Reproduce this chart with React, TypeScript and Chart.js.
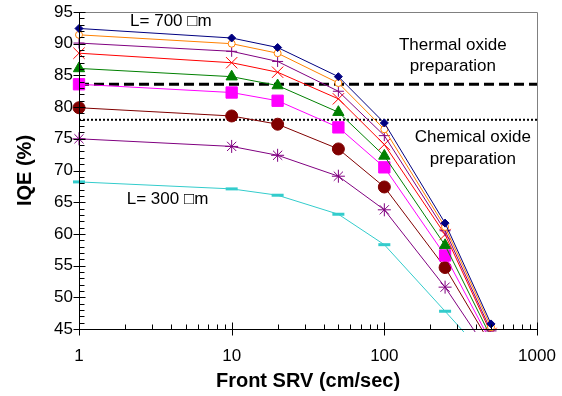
import React, { useEffect, useRef } from 'react';
import { Chart, registerables } from 'chart.js';

Chart.register(...registerables);

// ---- data ----
const srv = [1, 10, 20, 50, 100, 250, 500];
const iqeL700 = [92.4, 90.9, 89.4, 84.8, 77.5, 61.7, 45.8];
const iqeL650 = [91.4, 90.0, 88.5, 83.8, 76.5, 61.1, 45.3];
const iqeL600 = [90.1, 88.8, 87.2, 82.5, 75.5, 60.5, 44.7];
const iqeL550 = [88.5, 87.0, 85.5, 81.3, 74.1, 59.9, 44.3];
const iqeL500 = [86.1, 84.8, 83.4, 79.2, 72.3, 58.2, 43.7];
const iqeL450 = [83.6, 82.3, 81.0, 76.8, 70.5, 56.6, 42.9];
const iqeL400 = [79.9, 78.6, 77.3, 73.4, 67.4, 54.7, 42.5];
const iqeL350 = [75.0, 73.8, 72.4, 69.1, 63.8, 51.6, 40.8];
const iqeL300 = [68.2, 67.1, 66.1, 63.1, 58.3, 47.8, 39.8];
const seriesNames = ['L = 700', 'L = 650', 'L = 600', 'L = 550', 'L = 500', 'L = 450', 'L = 400', 'L = 350', 'L = 300'];
const thermalLevel = 83.6;
const chemicalLevel = 78.0;
const xMin = 1;
const xMax = 1000;
const yMin = 45;
const yMax = 95;
const yStep = 5;
const xTickLabels = [1, 10, 100, 1000];
const notes = [
  { text: 'L= 700 \u25A1m', x: 4.0, y: 93.5 },
  { text: 'L= 300 \u25A1m', x: 3.8, y: 65.4 },
  { text: 'Thermal oxide', x: 281, y: 89.8 },
  { text: 'preparation', x: 281, y: 86.5 },
  { text: 'Chemical oxide', x: 380, y: 75.3 },
  { text: 'preparation', x: 380, y: 71.8 },
];

const FONT = '"Liberation Sans", Arial, sans-serif';

const styles = [
  { color: '#000080', pointStyle: 'rectRot', radius: 4, fill: '#000080', bw: 1 },
  { color: '#FF8000', pointStyle: 'circle', radius: 3.5, fill: '#FFFFFF', bw: 1 },
  { color: '#800080', pointStyle: 'cross', radius: 5.5, fill: '#800080', bw: 1 },
  { color: '#FF0000', pointStyle: 'crossRot', radius: 8, fill: '#FF0000', bw: 1 },
  { color: '#008000', pointStyle: 'triangle', radius: 6.5, fill: '#008000', bw: 1 },
  { color: '#FF00FF', pointStyle: 'rect', radius: 8, fill: '#FF00FF', bw: 1 },
  { color: '#800000', pointStyle: 'circle', radius: 6, fill: '#800000', bw: 1 },
  { color: '#800080', pointStyle: 'star', radius: 6.5, fill: '#800080', bw: 1 },
  { color: '#33CCCC', pointStyle: 'line', radius: 6, fill: '#33CCCC', bw: 3 },
];

const decoPlugin = {
  id: 'deco',
  beforeDatasetsDraw(chart: any) {
    const { ctx, chartArea: a } = chart;
    ctx.save();
    ctx.strokeStyle = '#808080';
    ctx.lineWidth = 1;
    ctx.beginPath();
    ctx.moveTo(Math.round(a.left) + 0.5, Math.round(a.top) + 0.5);
    ctx.lineTo(Math.round(a.right) + 0.5, Math.round(a.top) + 0.5);
    ctx.lineTo(Math.round(a.right) + 0.5, Math.round(a.bottom) + 0.5);
    ctx.stroke();
    ctx.restore();
  },
  afterDatasetsDraw(chart: any) {
    const { ctx, chartArea: a, scales } = chart;
    const xs = scales.x;
    const ys = scales.y;
    const L = Math.round(a.left) + 0.5;
    const B = Math.round(a.bottom) + 0.5;
    ctx.save();
    ctx.strokeStyle = '#000';
    ctx.lineWidth = 1;
    ctx.beginPath();
    ctx.moveTo(L, Math.round(a.top));
    ctx.lineTo(L, B);
    ctx.lineTo(Math.round(a.right) + 1, B);
    for (let v = yMin; v <= yMax; v += 1) {
      const py = Math.round(ys.getPixelForValue(v)) + 0.5;
      if (v % yStep === 0) {
        ctx.moveTo(L - 6, py);
        ctx.lineTo(L + 6, py);
      } else {
        ctx.moveTo(L, py);
        ctx.lineTo(L + 5, py);
      }
    }
    for (let d = 1; d < xMax; d *= 10) {
      for (let k = 1; k <= 9; k++) {
        const px = Math.round(xs.getPixelForValue(k * d)) + 0.5;
        if (k === 1) {
          ctx.moveTo(px, B - 7);
          ctx.lineTo(px, B + 6);
        } else {
          ctx.moveTo(px, B - 5);
          ctx.lineTo(px, B);
        }
      }
    }
    const pe = Math.round(xs.getPixelForValue(xMax)) + 0.5;
    ctx.moveTo(pe, B - 7);
    ctx.lineTo(pe, B + 6);
    ctx.stroke();
    ctx.restore();
  },
  afterDraw(chart: any) {
    const { ctx, scales } = chart;
    ctx.save();
    ctx.fillStyle = '#000';
    ctx.font = `17px ${FONT}`;
    ctx.textAlign = 'center';
    ctx.textBaseline = 'middle';
    for (const n of notes) {
      ctx.fillText(n.text, scales.x.getPixelForValue(n.x), scales.y.getPixelForValue(n.y));
    }
    ctx.restore();
  },
};

export default function App() {
  const ref = useRef<HTMLCanvasElement | null>(null);
  useEffect(() => {
    if (!ref.current) return;
    const series = [iqeL700, iqeL650, iqeL600, iqeL550, iqeL500, iqeL450, iqeL400, iqeL350, iqeL300];
    const datasets: any[] = series.map((vals, i) => ({
      label: seriesNames[i],
      data: srv.map((s, j) => ({ x: s, y: vals[j] })),
      borderColor: styles[i].color,
      backgroundColor: styles[i].fill,
      borderWidth: 1,
      pointStyle: styles[i].pointStyle,
      pointRadius: styles[i].radius,
      pointBorderColor: styles[i].color,
      pointBackgroundColor: styles[i].fill,
      pointBorderWidth: styles[i].bw,
      tension: 0,
      clip: { left: 12, top: 12, right: 12, bottom: 3 },
    }));
    datasets.push({
      label: 'Thermal oxide preparation',
      data: [{ x: xMin, y: thermalLevel }, { x: xMax, y: thermalLevel }],
      borderColor: '#000',
      borderWidth: 3,
      borderDash: [10, 5],
      pointRadius: 0,
    });
    datasets.push({
      label: 'Chemical oxide preparation',
      data: [{ x: xMin, y: chemicalLevel }, { x: xMax, y: chemicalLevel }],
      borderColor: '#000',
      borderWidth: 2,
      borderDash: [2, 2],
      pointRadius: 0,
    });
    const chart = new Chart(ref.current, {
      type: 'line',
      data: { datasets },
      options: {
        responsive: false,
        animation: false,
        layout: { padding: { left: 0, right: 25, top: 12, bottom: 0 } },
        plugins: { legend: { display: false }, tooltip: { enabled: false } },
        scales: {
          x: {
            type: 'logarithmic',
            min: xMin,
            max: xMax,
            grid: { display: false, drawTicks: false },
            border: { display: false },
            ticks: {
              autoSkip: false,
              maxRotation: 0,
              padding: 17,
              color: '#000',
              font: { family: FONT, size: 17 },
              callback: (v: any) => (xTickLabels.includes(Number(v)) ? String(v) : ''),
            },
            afterFit: (s: any) => {
              s.height = 67;
              s.paddingLeft = 0;
              s.paddingRight = 0;
            },
            title: {
              display: true,
              text: 'Front SRV (cm/sec)',
              color: '#000',
              font: { family: FONT, size: 20, weight: 'bold' },
              padding: { top: 0, bottom: 3 },
            },
          },
          y: {
            type: 'linear',
            min: yMin,
            max: yMax,
            grid: { display: false, drawTicks: false },
            border: { display: false },
            ticks: {
              stepSize: yStep,
              padding: 6,
              color: '#000',
              font: { family: FONT, size: 17 },
            },
            afterFit: (s: any) => {
              s.width = 79;
              s.paddingTop = 0;
              s.paddingBottom = 0;
            },
            title: {
              display: true,
              text: 'IQE (%)',
              color: '#000',
              font: { family: FONT, size: 20, weight: 'bold' },
              padding: { top: 13, bottom: 0 },
            },
          },
        },
      } as any,
      plugins: [decoPlugin],
    });
    return () => chart.destroy();
  }, []);
  return (
    <div style={{ position: 'absolute', left: 0, top: 0, width: 562, height: 396, background: '#fff' }}>
      <canvas ref={ref} width={562} height={396} />
    </div>
  );
}
